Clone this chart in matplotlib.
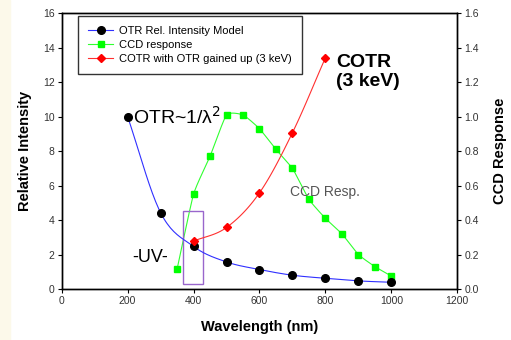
import numpy as np
import matplotlib as mpl
import matplotlib.pyplot as plt
from matplotlib.patches import Rectangle

plt.rcParams['font.family'] = ['Liberation Sans', 'DejaVu Sans']

# OTR relative intensity model (left axis)
otr_wl = [200, 300, 400, 500, 600, 700, 800, 900, 1000]
otr_val = [10.0, 4.43, 2.47, 1.57, 1.13, 0.80, 0.62, 0.47, 0.39]

# CCD response (right axis)
ccd_wl = [350, 400, 450, 500, 550, 600, 650, 700, 750, 800, 850, 900, 950, 1000]
ccd_val = [0.115, 0.55, 0.77, 1.01, 1.01, 0.93, 0.81, 0.70, 0.52, 0.41, 0.32, 0.20, 0.13, 0.075]

# COTR with OTR gained up (left axis)
cotr_wl = [400, 500, 600, 700, 800]
cotr_val = [2.78, 3.57, 5.58, 9.07, 13.42]

xticks = [0, 200, 400, 600, 800, 1000, 1200]
yticks_left = [0, 2, 4, 6, 8, 10, 12, 14, 16]
yticks_right = [0.0, 0.2, 0.4, 0.6, 0.8, 1.0, 1.2, 1.4, 1.6]


def smooth(x, y, n=20, k=1.0):
    # cardinal spline through the points (k scales the tangents)
    x = np.asarray(x, float)
    y = np.asarray(y, float)
    px = np.concatenate([[2 * x[0] - x[1]], x, [2 * x[-1] - x[-2]]])
    py = np.concatenate([[2 * y[0] - y[1]], y, [2 * y[-1] - y[-2]]])
    xs, ys = [], []
    t = np.linspace(0, 1, n, endpoint=False)
    h00 = 2 * t ** 3 - 3 * t ** 2 + 1
    h10 = t ** 3 - 2 * t ** 2 + t
    h01 = -2 * t ** 3 + 3 * t ** 2
    h11 = t ** 3 - t ** 2
    for i in range(1, len(px) - 2):
        for p, out in ((px, xs), (py, ys)):
            m1 = k * 0.5 * (p[i + 1] - p[i - 1])
            m2 = k * 0.5 * (p[i + 2] - p[i])
            out.extend(h00 * p[i] + h10 * m1 + h01 * p[i + 1] + h11 * m2)
    xs.append(x[-1])
    ys.append(y[-1])
    return xs, ys


fig = plt.figure(figsize=(5.11, 3.40), dpi=100)
fig.patches.append(Rectangle((0, 0), 10 / 511, 1, transform=fig.transFigure,
                             color='#fcf9ea', zorder=0))
ax = fig.add_axes([0.1207, 0.15, 0.7742, 0.811])
ax2 = ax.twinx()

tick_col = '#333333'

# OTR
sx, sy = smooth(otr_wl, otr_val)
ax.plot(sx, sy, color='#3030ff', lw=0.8)
ax.plot(otr_wl, otr_val, 'o', color='black', ms=5.5)
h1, = ax.plot([], [], '-o', color='#3030ff', mfc='black', mec='black', ms=5.5, lw=0.8)

# COTR
sx, sy = smooth(cotr_wl, cotr_val)
ax.plot(sx, sy, color='#ff3030', lw=0.8)
ax.plot(cotr_wl, cotr_val, 'D', color='#ff0000', ms=4.5)
h3, = ax.plot([], [], '-D', color='#ff3030', mfc='#ff0000', mec='#ff0000', ms=4.5, lw=0.8)

# CCD
sx, sy = smooth(ccd_wl, ccd_val, k=0.5)
ax2.plot(sx, sy, color='#30ff30', lw=0.8)
ax2.plot(ccd_wl, ccd_val, 's', color='#00ff00', ms=4.5)
h2, = ax2.plot([], [], '-s', color='#30ff30', mfc='#00ff00', mec='#00ff00', ms=4.5, lw=0.8)

ax.add_patch(Rectangle((368, 0.3), 61, 4.2, fill=False, ec='#9966cc', lw=1.0))

ax.set_xlim(0, 1200)
ax.set_ylim(0, 16)
ax2.set_ylim(0, 1.6)
ax.set_xticks(xticks)
ax.set_yticks(yticks_left)
ax2.set_yticks(yticks_right)
ax2.set_yticklabels(['%.1f' % v for v in yticks_right])

for a in (ax, ax2):
    a.tick_params(direction='out', length=3, width=0.8, labelsize=7.5,
                  labelcolor=tick_col, pad=2)
    for s in a.spines.values():
        s.set_linewidth(1.0)

ax.set_xlabel('Wavelength (nm)', fontsize=10.5, fontweight='bold', labelpad=10)
ax.set_ylabel('Relative Intensity', fontsize=10.5, fontweight='bold', labelpad=8)
ax2.set_ylabel('CCD Response', fontsize=10.5, fontweight='bold', labelpad=10,
               rotation=90)

ax.text(216, 10.0, 'OTR~1/λ$^2$', fontsize=14, va='center', ha='left')
ax.text(832, 12.6, 'COTR\n(3 keV)', fontsize=14, fontweight='bold',
        va='center', ha='left', linespacing=1.1)
ax.text(268, 1.8, '-UV-', fontsize=13, va='center', ha='center')
ax.text(800, 5.6, 'CCD Resp.', fontsize=10, color='#555555', va='center', ha='center')

leg = ax.legend([h1, h2, h3],
                ['OTR Rel. Intensity Model', 'CCD response',
                 'COTR with OTR gained up (3 keV)'],
                loc='upper left', bbox_to_anchor=(0.041, 0.99), fontsize=8,
                frameon=True, fancybox=False, edgecolor='black',
                handlelength=2.3, handletextpad=0.5, borderpad=0.9,
                borderaxespad=0, labelspacing=0.35)
leg.get_frame().set_linewidth(1.0)
ax.set_zorder(ax2.get_zorder() + 1)
ax.patch.set_visible(False)

fig.savefig('out.png', dpi=100)
